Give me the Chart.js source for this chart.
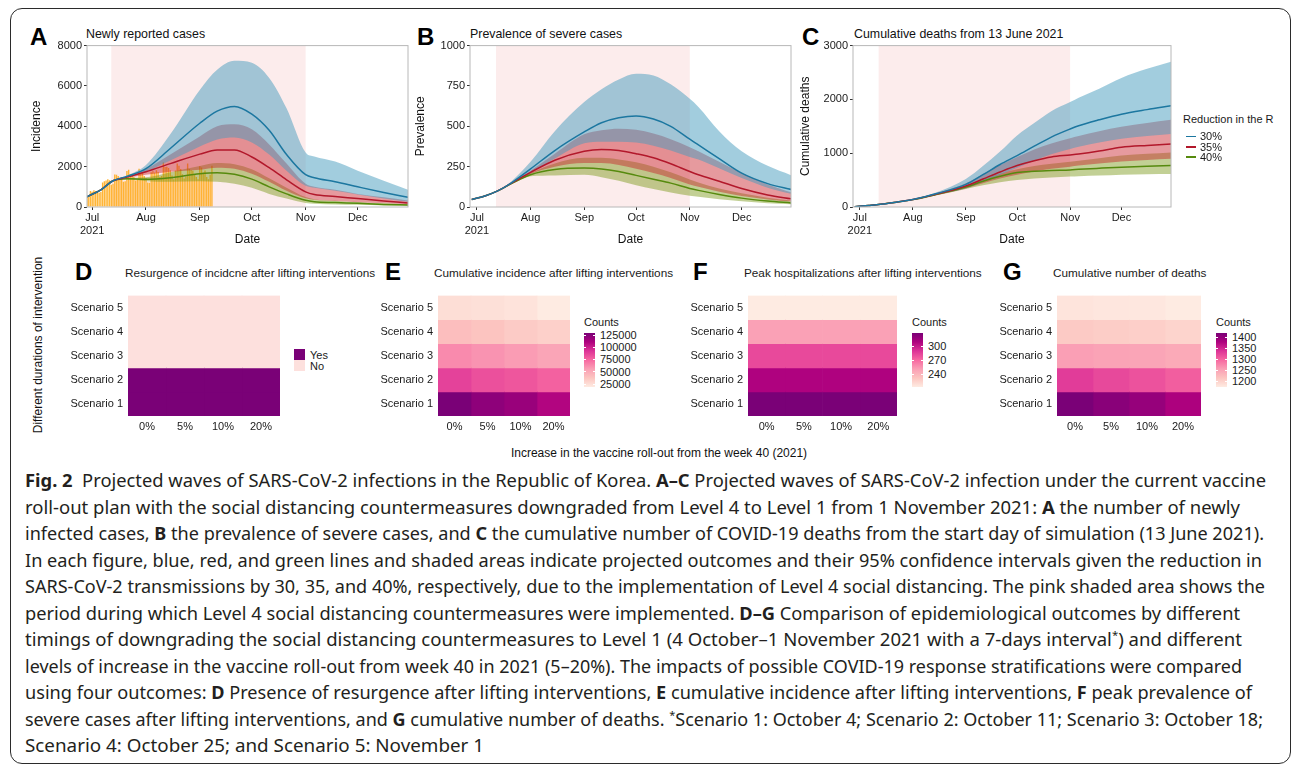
<!DOCTYPE html>
<html>
<head>
<meta charset="utf-8">
<script src="https://cdn.jsdelivr.net/npm/chart.js@4.4.1/dist/chart.umd.min.js"></script>
<style>
    html, body { margin: 0; padding: 0; background: #fff; }
    body { width: 1292px; height: 766px; position: relative; overflow: hidden; font-family: "Liberation Sans", Arial, sans-serif; color: #111; }
    .t { position: absolute; white-space: nowrap; line-height: 1; }
    .letter { font-weight: bold; font-size: 24px; color: #000; }
    .ptitle { font-size: 12.4px; }
    .htitle { font-size: 11.75px; color: #1a1a1a; }
    .small { font-size: 11px; color: #1a1a1a; }
    canvas { position: absolute; }
    #frame { position: absolute; left: 10px; top: 8px; width: 1281px; height: 756px; box-sizing: border-box; border: 1.3px solid #2b2b2b; border-radius: 12px; }
    .cap { position: absolute; left: 25px; font-family: "Noto Sans", "Open Sans", sans-serif; font-size: 18px; line-height: 1; white-space: nowrap; color: #231f20; transform-origin: 0 50%; }
    .cap sup { font-size: 11px; vertical-align: 7px; line-height: 0; }
    .swatch { position: absolute; }
</style>
</head>
<body>
<div id="frame"></div>

<!-- top row: panel letters and titles -->
<div class="t letter" style="left:30px; top:25px;">A</div>
<div class="t ptitle" style="left:86px; top:28.3px;">Newly reported cases</div>
<div class="t letter" style="left:417px; top:25px;">B</div>
<div class="t ptitle" style="left:470px; top:28.3px;">Prevalence of severe cases</div>
<div class="t letter" style="left:802px; top:25px;">C</div>
<div class="t ptitle" style="left:854px; top:28.3px;">Cumulative deaths from 13 June 2021</div>

<canvas id="chartA" width="395" height="216" style="left:20px; top:37px;"></canvas>
<canvas id="chartB" width="390" height="216" style="left:410px; top:37px;"></canvas>
<canvas id="chartC" width="385" height="216" style="left:795px; top:37px;"></canvas>

<!-- legend of C -->
<div class="t small" style="left:1183px; top:114px;">Reduction in the R</div>
<div class="swatch" style="left:1186px; top:135.5px; width:10px; height:1.6px; background:#1c77a0;"></div>
<div class="t small" style="left:1200px; top:130.6px;">30%</div>
<div class="swatch" style="left:1186px; top:146px; width:10px; height:1.6px; background:#b2182b;"></div>
<div class="t small" style="left:1200px; top:141.6px;">35%</div>
<div class="swatch" style="left:1186px; top:156px; width:10px; height:1.6px; background:#568a0e;"></div>
<div class="t small" style="left:1200px; top:151.6px;">40%</div>

<!-- bottom row -->
<div class="t letter" style="left:75px; top:260px;">D</div>
<div class="t htitle" style="left:125px; top:267.4px;">Resurgence of incidcne after lifting interventions</div>
<div class="t letter" style="left:385px; top:260px;">E</div>
<div class="t htitle" style="left:434px; top:267.4px;">Cumulative incidence after lifting interventions</div>
<div class="t letter" style="left:693px; top:260px;">F</div>
<div class="t htitle" style="left:744px; top:267.4px;">Peak hospitalizations after lifting interventions</div>
<div class="t letter" style="left:1003px; top:260px;">G</div>
<div class="t htitle" style="left:1053px; top:267.4px;">Cumulative number of deaths</div>

<div class="t" style="left:37.5px; top:345px; font-size:12px; transform:translate(-50%,-50%) rotate(-90deg);">Different durations of intervention</div>
<div class="t" style="left:659px; top:453px; font-size:12px; transform:translate(-50%,-50%);">Increase in the vaccine roll-out from the week 40 (2021)</div>

<canvas id="chartD" width="225" height="160" style="left:60px; top:284px;"></canvas>
<canvas id="chartE" width="200" height="160" style="left:375px; top:284px;"></canvas>
<canvas id="chartF" width="217" height="160" style="left:685px; top:284px;"></canvas>
<canvas id="chartG" width="211" height="160" style="left:995px; top:284px;"></canvas>

<!-- legend of D -->
<div class="swatch" style="left:294px; top:349px; width:11px; height:11px; background:#7a0177;"></div>
<div class="swatch" style="left:294px; top:360px; width:11px; height:11px; background:#fde0dd;"></div>
<div class="t small" style="left:310px; top:349.6px;">Yes</div>
<div class="t small" style="left:310px; top:360.6px;">No</div>

<div id="legends"></div>

<!-- caption -->
<div class="cap"><b>Fig. 2</b>&nbsp;&nbsp;Projected waves of SARS-CoV-2 infections in the Republic of Korea. <b>A–C</b> Projected waves of SARS-CoV-2 infection under the current vaccine</div>
<div class="cap">roll-out plan with the social distancing countermeasures downgraded from Level 4 to Level 1 from 1 November 2021: <b>A</b> the number of newly</div>
<div class="cap">infected cases, <b>B</b> the prevalence of severe cases, and <b>C</b> the cumulative number of COVID-19 deaths from the start day of simulation (13 June 2021).</div>
<div class="cap">In each figure, blue, red, and green lines and shaded areas indicate projected outcomes and their 95% confidence intervals given the reduction in</div>
<div class="cap">SARS-CoV-2 transmissions by 30, 35, and 40%, respectively, due to the implementation of Level 4 social distancing. The pink shaded area shows the</div>
<div class="cap">period during which Level 4 social distancing countermeasures were implemented. <b>D–G</b> Comparison of epidemiological outcomes by different</div>
<div class="cap">timings of downgrading the social distancing countermeasures to Level 1 (4 October–1 November 2021 with a 7-days interval<sup>*</sup>) and different</div>
<div class="cap">levels of increase in the vaccine roll-out from week 40 in 2021 (5–20%). The impacts of possible COVID-19 response stratifications were compared</div>
<div class="cap">using four outcomes: <b>D</b> Presence of resurgence after lifting interventions, <b>E</b> cumulative incidence after lifting interventions, <b>F</b> peak prevalence of</div>
<div class="cap">severe cases after lifting interventions, and <b>G</b> cumulative number of deaths. <sup>*</sup>Scenario 1: October 4; Scenario 2: October 11; Scenario 3: October 18;</div>
<div class="cap">Scenario 4: October 25; and Scenario 5: November 1</div>

<script>
// days counted from 1 July 2021
const knotDays = [-3, 5, 12, 20, 31, 45, 62, 72, 82, 92, 102, 112, 123, 128, 140, 153, 168, 182];
const monthTicks = [0, 31, 62, 92, 123, 153];
const monthLabels = [['Jul', '2021'], 'Aug', 'Sep', 'Oct', 'Nov', 'Dec'];
const level4Start = 11;   // 12 July
const level4End = 123;    // 1 November

// reported daily cases, 28 June - 8 September
const firstReportedDay = -3;
const reportedCases = [501, 595, 794,
    762, 826, 794, 743, 711, 746, 1212, 1275, 1316, 1378, 1324, 1100, 1150, 1615, 1600, 1536,
    1452, 1454, 1252, 1278, 1784, 1842, 1630, 1629, 1487, 1318, 1365, 1896, 1674, 1710, 1539,
    1442, 1219, 1202, 1725, 1776, 1704, 1823, 1729, 1492, 1537, 2223, 1987, 1990, 1928, 1816,
    1556, 1373, 1805, 2152, 2050, 1880, 1626, 1418, 1509, 2154, 1882, 1840, 1793, 1619, 1487, 1372,
    2025, 1961, 1709, 1804, 1490, 1375, 1597, 2050];

// A: newly reported cases
const blueLineA  = [510, 850, 1300, 1520, 1900, 2900, 4150, 4750, 4980, 4600, 3800, 2600, 1600, 1450, 1250, 1000, 720, 480];
const blueUpperA = [510, 850, 1300, 1560, 2080, 3600, 5800, 6800, 7250, 7150, 6400, 4900, 2700, 2500, 2250, 1800, 1300, 850];
const blueLowerA = [510, 850, 1300, 1480, 1760, 2300, 3000, 3350, 3450, 3200, 2600, 1800, 1050, 950, 800, 620, 420, 260];
const redLineA   = [510, 850, 1300, 1480, 1750, 2150, 2620, 2820, 2830, 2480, 1950, 1350, 750, 620, 520, 420, 300, 200];
const redUpperA  = [510, 850, 1300, 1510, 1880, 2600, 3500, 4000, 4100, 3850, 3100, 2150, 1150, 1000, 850, 650, 480, 320];
const redLowerA  = [510, 850, 1300, 1450, 1600, 1750, 1850, 1950, 1900, 1650, 1250, 800, 430, 360, 300, 240, 180, 125];
const greenLineA  = [510, 850, 1300, 1400, 1370, 1450, 1650, 1700, 1620, 1380, 1000, 650, 330, 260, 220, 180, 130, 100];
const greenUpperA = [510, 850, 1300, 1430, 1470, 1720, 2030, 2180, 2120, 1870, 1420, 960, 490, 390, 310, 245, 185, 140];
const greenLowerA = [510, 850, 1300, 1370, 1280, 1250, 1280, 1250, 1150, 950, 650, 420, 200, 160, 130, 110, 80, 60];

// B: prevalence of severe cases
const blueLineB  = [47, 70, 100, 150, 236, 350, 465, 522, 553, 564, 545, 500, 420, 385, 300, 210, 145, 108];
const blueUpperB = [47, 70, 100, 160, 280, 470, 650, 730, 790, 825, 815, 760, 670, 620, 470, 345, 255, 195];
const blueLowerB = [47, 70, 100, 145, 210, 300, 395, 405, 405, 400, 380, 350, 310, 295, 240, 180, 120, 80];
const redLineB   = [47, 70, 100, 148, 215, 290, 345, 356, 350, 330, 305, 268, 220, 200, 160, 115, 75, 50];
const redUpperB  = [47, 70, 100, 152, 225, 330, 450, 475, 485, 478, 455, 420, 370, 345, 280, 210, 140, 90];
const redLowerB  = [47, 70, 100, 144, 205, 250, 272, 272, 260, 237, 210, 180, 140, 125, 95, 68, 47, 33];
const greenLineB  = [47, 70, 100, 145, 200, 232, 241, 236, 220, 196, 172, 148, 115, 103, 78, 55, 37, 25];
const greenUpperB = [47, 70, 100, 148, 210, 270, 305, 305, 295, 278, 250, 215, 170, 152, 115, 85, 58, 40];
const greenLowerB = [47, 70, 100, 142, 190, 195, 200, 185, 162, 135, 112, 90, 70, 63, 48, 35, 24, 17];

// C: cumulative deaths
const blueLineC  = [5, 28, 50, 85, 140, 250, 420, 600, 790, 955, 1130, 1300, 1450, 1510, 1620, 1725, 1810, 1880];
const blueUpperC = [5, 28, 50, 87, 145, 275, 520, 760, 1030, 1330, 1560, 1780, 1950, 2030, 2200, 2400, 2570, 2700];
const blueLowerC = [5, 28, 50, 83, 135, 230, 350, 470, 600, 730, 860, 980, 1080, 1120, 1200, 1270, 1320, 1355];
const redLineC   = [5, 28, 50, 85, 138, 240, 390, 520, 650, 770, 860, 930, 967, 985, 1040, 1110, 1145, 1170];
const redUpperC  = [5, 28, 50, 87, 142, 260, 440, 610, 780, 930, 1070, 1180, 1280, 1320, 1410, 1490, 1560, 1620];
const redLowerC  = [5, 28, 50, 83, 134, 225, 345, 440, 530, 600, 660, 710, 750, 770, 810, 845, 875, 895];
const greenLineC  = [5, 28, 50, 85, 137, 235, 370, 480, 570, 640, 665, 680, 690, 700, 720, 740, 758, 770];
const greenUpperC = [5, 28, 50, 86, 140, 250, 400, 520, 620, 700, 760, 805, 840, 860, 905, 955, 990, 1015];
const greenLowerC = [5, 28, 50, 84, 133, 220, 335, 405, 460, 500, 530, 550, 565, 572, 585, 600, 610, 615];

// heatmaps: rows = Scenario 1..5, columns = 0%, 5%, 10%, 20%
const scenarioLabels = ['Scenario 1', 'Scenario 2', 'Scenario 3', 'Scenario 4', 'Scenario 5'];
const rolloutLabels = ['0%', '5%', '10%', '20%'];
const tileSpan = [1, 1, 1, 1, 1];
const resurgence = [[1, 1, 1, 1], [1, 1, 1, 1], [0, 0, 0, 0], [0, 0, 0, 0], [0, 0, 0, 0]];
const cumIncidence = [
    [130000, 123000, 119000, 110000],
    [88000, 83000, 81000, 77000],
    [63000, 60000, 57000, 53000],
    [41000, 38000, 34500, 32000],
    [25500, 24500, 22700, 19000]
];
const peakHosp = [
    [330, 330, 330, 330],
    [310, 310, 310, 310],
    [283, 283, 283, 283],
    [251, 251, 251, 251],
    [213, 213, 213, 213]
];
const cumDeaths = [
    [1420, 1408, 1398, 1380],
    [1332, 1322, 1315, 1305],
    [1257, 1252, 1250, 1245],
    [1210, 1207, 1205, 1200],
    [1182, 1180, 1179, 1175]
];

Chart.defaults.font.family = '"Liberation Sans", Arial, sans-serif';
Chart.defaults.font.size = 11;
Chart.defaults.color = '#1a1a1a';

const scenarioStyles = [
    { line: '#1c77a0', fill: 'rgba(70,155,190,0.5)' },
    { line: '#b2182b', fill: 'rgba(200,30,40,0.45)' },
    { line: '#568a0e', fill: 'rgba(120,150,20,0.45)' }
];

const level4Shade = {
    id: 'level4Shade',
    beforeDatasetsDraw(chart) {
        const { ctx, chartArea, scales } = chart;
        const x1 = scales.x.getPixelForValue(level4Start);
        const x2 = scales.x.getPixelForValue(level4End);
        ctx.save();
        ctx.fillStyle = 'rgb(252,236,236)';
        ctx.fillRect(x1, chartArea.top, x2 - x1, chartArea.bottom - chartArea.top);
        ctx.restore();
    }
};

const panelFrame = {
    id: 'panelFrame',
    afterDatasetsDraw(chart) {
        const a = chart.chartArea;
        const ctx = chart.ctx;
        ctx.save();
        ctx.strokeStyle = '#b8b8b8';
        ctx.lineWidth = 1;
        ctx.strokeRect(a.left, a.top, a.right - a.left, a.bottom - a.top);
        ctx.restore();
    }
};

function makeWavePanel(canvasId, p) {
    const pts = arr => knotDays.map((d, i) => ({ x: d, y: arr[i] }));
    const datasets = [];
    scenarioStyles.forEach((s, k) => {
        datasets.push({ data: pts(p.upper[k]), fill: '+1', backgroundColor: s.fill, borderColor: 'transparent',
            borderWidth: 0, pointRadius: 0, cubicInterpolationMode: 'monotone', order: 13 + k });
        datasets.push({ data: pts(p.lower[k]), fill: false, borderColor: 'transparent',
            borderWidth: 0, pointRadius: 0, cubicInterpolationMode: 'monotone', order: 13 + k });
    });
    scenarioStyles.forEach((s, k) => {
        datasets.push({ data: pts(p.mid[k]), fill: false, borderColor: s.line, borderWidth: 1.5,
            pointRadius: 0, cubicInterpolationMode: 'monotone', order: 1 + k });
    });
    if (p.bars) {
        datasets.push({ type: 'bar', data: p.bars, backgroundColor: 'rgba(255,168,20,0.85)',
            barPercentage: 0.8, categoryPercentage: 1, order: 20 });
    }

    new Chart(document.getElementById(canvasId), {
        type: 'line',
        data: { datasets: datasets },
        options: {
            animation: false,
            responsive: false,
            devicePixelRatio: 1,
            layout: { padding: { top: 7, right: p.padRight, left: 0, bottom: 0 } },
            plugins: { legend: { display: false }, tooltip: { enabled: false } },
            scales: {
                x: {
                    type: 'linear', min: p.xMin, max: p.xMax, offset: false,
                    grid: { drawOnChartArea: false, tickLength: 3, color: '#333', offset: false },
                    border: { display: false },
                    afterBuildTicks: axis => { axis.ticks = monthTicks.map(v => ({ value: v })); },
                    ticks: { autoSkip: false, maxRotation: 0, padding: 1,
                        callback: v => monthLabels[monthTicks.indexOf(v)] },
                    title: { display: true, text: 'Date', font: { size: 12 }, color: '#111', padding: { top: 0, bottom: 6 } },
                    afterFit: s => { s.height = 46; }
                },
                y: {
                    min: 0, max: p.yMax,
                    grid: { drawOnChartArea: false, tickLength: 3, color: '#333' },
                    border: { display: false },
                    ticks: { stepSize: p.yStep, padding: 2, callback: v => String(v) },
                    title: { display: true, text: p.yTitle, font: { size: 12 }, color: '#111', padding: { top: p.titlePad, bottom: 0 } },
                    afterFit: s => { s.width = p.yAxisWidth; }
                }
            }
        },
        plugins: [level4Shade, panelFrame]
    });
}

makeWavePanel('chartA', {
    upper: [blueUpperA, redUpperA, greenUpperA],
    lower: [blueLowerA, redLowerA, greenLowerA],
    mid: [blueLineA, redLineA, greenLineA],
    bars: reportedCases.map((v, i) => ({ x: firstReportedDay + i, y: v })),
    xMin: -3, xMax: 182, yMax: 8000, yStep: 2000, yTitle: 'Incidence',
    yAxisWidth: 67, titlePad: 9.5, padRight: 7
});
makeWavePanel('chartB', {
    upper: [blueUpperB, redUpperB, greenUpperB],
    lower: [blueLowerB, redLowerB, greenLowerB],
    mid: [blueLineB, redLineB, greenLineB],
    xMin: -4, xMax: 181.5, yMax: 1000, yStep: 250, yTitle: 'Prevalence',
    yAxisWidth: 60, titlePad: 3, padRight: 9
});
makeWavePanel('chartC', {
    upper: [blueUpperC, redUpperC, greenUpperC],
    lower: [blueLowerC, redLowerC, greenLowerC],
    mid: [blueLineC, redLineC, greenLineC],
    xMin: -4, xMax: 182, yMax: 3000, yStep: 1000, yTitle: 'Cumulative deaths',
    yAxisWidth: 58, titlePad: 3, padRight: 9
});

// RdPu-like colour ramp for the heatmaps
const rampStops = ['#feebe2', '#fcc5c0', '#fa9fb5', '#f768a1', '#dd3497', '#ae017e', '#7a0177'];
function hexToRgb(h) {
    return [parseInt(h.slice(1, 3), 16), parseInt(h.slice(3, 5), 16), parseInt(h.slice(5, 7), 16)];
}
function rampColor(t) {
    t = Math.max(0, Math.min(1, t));
    const pos = t * (rampStops.length - 1);
    const i = Math.min(Math.floor(pos), rampStops.length - 2);
    const f = pos - i;
    const a = hexToRgb(rampStops[i]), b = hexToRgb(rampStops[i + 1]);
    return 'rgb(' + a.map((c, k) => Math.round(c + (b[k] - c) * f)).join(',') + ')';
}

function makeHeatmap(canvasId, cells, colorOf, yAxisWidth) {
    new Chart(document.getElementById(canvasId), {
        type: 'bar',
        data: {
            labels: scenarioLabels,
            datasets: rolloutLabels.map((lab, j) => ({
                label: lab,
                data: tileSpan,
                backgroundColor: cells.map(row => colorOf(row[j])),
                borderWidth: 0,
                barPercentage: 1,
                categoryPercentage: 1
            }))
        },
        options: {
            indexAxis: 'y',
            animation: false,
            responsive: false,
            devicePixelRatio: 1,
            layout: { padding: { top: 4, right: 5, left: 0, bottom: 0 } },
            plugins: { legend: { display: false }, tooltip: { enabled: false } },
            scales: {
                x: {
                    type: 'linear', stacked: true, min: 0, max: 4,
                    grid: { display: false, drawTicks: false }, border: { display: false },
                    afterBuildTicks: axis => { axis.ticks = [0.5, 1.5, 2.5, 3.5].map(v => ({ value: v })); },
                    ticks: { autoSkip: false, maxRotation: 0, padding: 4, callback: v => rolloutLabels[Math.floor(v)] },
                    afterFit: s => { s.height = 28; }
                },
                y: {
                    stacked: true, reverse: true,
                    grid: { display: false, drawTicks: false }, border: { display: false },
                    ticks: { padding: 5 },
                    afterFit: s => { s.width = yAxisWidth; }
                }
            }
        }
    });
}

function valueRange(cells) {
    const all = cells.flat();
    return [Math.min(...all), Math.max(...all)];
}

makeHeatmap('chartD', resurgence, v => (v ? '#7a0177' : '#fde0dd'), 68);

const legendsBox = document.getElementById('legends');
function addColorbar(cells, barLeft, labelLeft, tickValues) {
    const [lo, hi] = valueRange(cells);
    const top = 333, height = 54;
    let html = '<div class="t small" style="left:' + barLeft + 'px; top:317.4px;">Counts</div>';
    html += '<div class="swatch" style="left:' + barLeft + 'px; top:' + top + 'px; width:11px; height:' + height +
        'px; background:linear-gradient(to top,' + rampStops.join(',') + ');"></div>';
    tickValues.forEach(v => {
        const y = top + height - (v - lo) / (hi - lo) * height;
        html += '<div class="t small" style="left:' + labelLeft + 'px; top:' + (y - 5.4) + 'px;">' + v + '</div>';
        html += '<div class="swatch" style="left:' + barLeft + 'px; top:' + (y - 0.5) + 'px; width:2px; height:1px; background:#fff;"></div>';
        html += '<div class="swatch" style="left:' + (barLeft + 9) + 'px; top:' + (y - 0.5) + 'px; width:2px; height:1px; background:#fff;"></div>';
    });
    legendsBox.insertAdjacentHTML('beforeend', html);
    return v => rampColor((v - lo) / (hi - lo));
}

makeHeatmap('chartE', cumIncidence, addColorbar(cumIncidence, 584, 600, [125000, 100000, 75000, 50000, 25000]), 63);
makeHeatmap('chartF', peakHosp, addColorbar(peakHosp, 912, 928, [300, 270, 240]), 63);
makeHeatmap('chartG', cumDeaths, addColorbar(cumDeaths, 1216, 1232, [1400, 1350, 1300, 1250, 1200]), 62);

// caption lines: fit each line to the width it has in the figure
const captionRightEdges = [1266, 1240, 1264, 1262, 1265, 1240, 1242, 1242, 1252, 1263, 484];
document.querySelectorAll('.cap').forEach((el, i) => {
    el.style.top = (471.3 + i * 26.5) + 'px';
    const w = el.getBoundingClientRect().width;
    el.style.transform = 'scaleX(' + ((captionRightEdges[i] - 25) / w) + ')';
});
</script>
</body>
</html>
